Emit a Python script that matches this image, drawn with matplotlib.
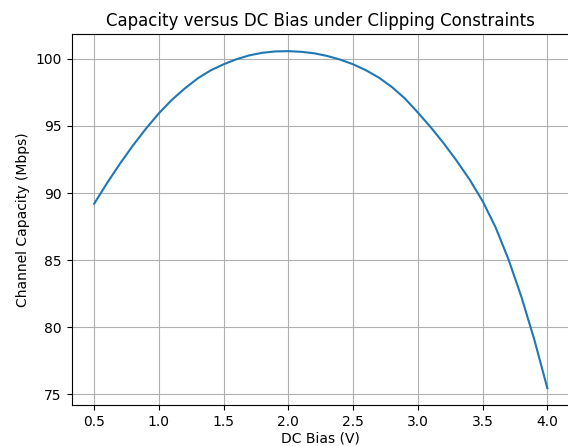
import matplotlib
matplotlib.use("Agg")
import matplotlib.pyplot as plt

dc_bias = [0.5, 0.6, 0.7, 0.8, 0.9, 1.0, 1.1, 1.2, 1.3, 1.4, 1.5, 1.6, 1.7, 1.8,
           1.9, 2.0, 2.1, 2.2, 2.3, 2.4, 2.5, 2.6, 2.7, 2.8, 2.9, 3.0, 3.1, 3.2,
           3.3, 3.4, 3.5, 3.6, 3.7, 3.8, 3.9, 4.0]
capacity = [89.2, 90.75, 92.2, 93.55, 94.8, 95.95, 96.95, 97.8, 98.55, 99.15,
            99.6, 99.98, 100.27, 100.46, 100.56, 100.58, 100.53, 100.42, 100.22,
            99.95, 99.6, 99.15, 98.6, 97.9, 97.05, 96.0, 94.9, 93.7, 92.4, 91.0,
            89.4, 87.45, 85.05, 82.25, 79.05, 75.45]

fig = plt.figure(figsize=(5.68, 4.46), dpi=100)
W, H = 568, 446
left, right, top, bottom = 71.5, 570.0, 34.3, 405.0
ax = fig.add_axes([left / W, (H - bottom) / H, (right - left) / W, (bottom - top) / H])
ax.plot(dc_bias, capacity, color="#1f77b4", linewidth=1.5)
ax.set_title("Capacity versus DC Bias under Clipping Constraints", fontsize=12)
ax.set_xlabel("DC Bias (V)", labelpad=2)
ax.set_ylabel("Channel Capacity (Mbps)")
ax.grid(True)
fig.savefig("out.png", dpi=100)
